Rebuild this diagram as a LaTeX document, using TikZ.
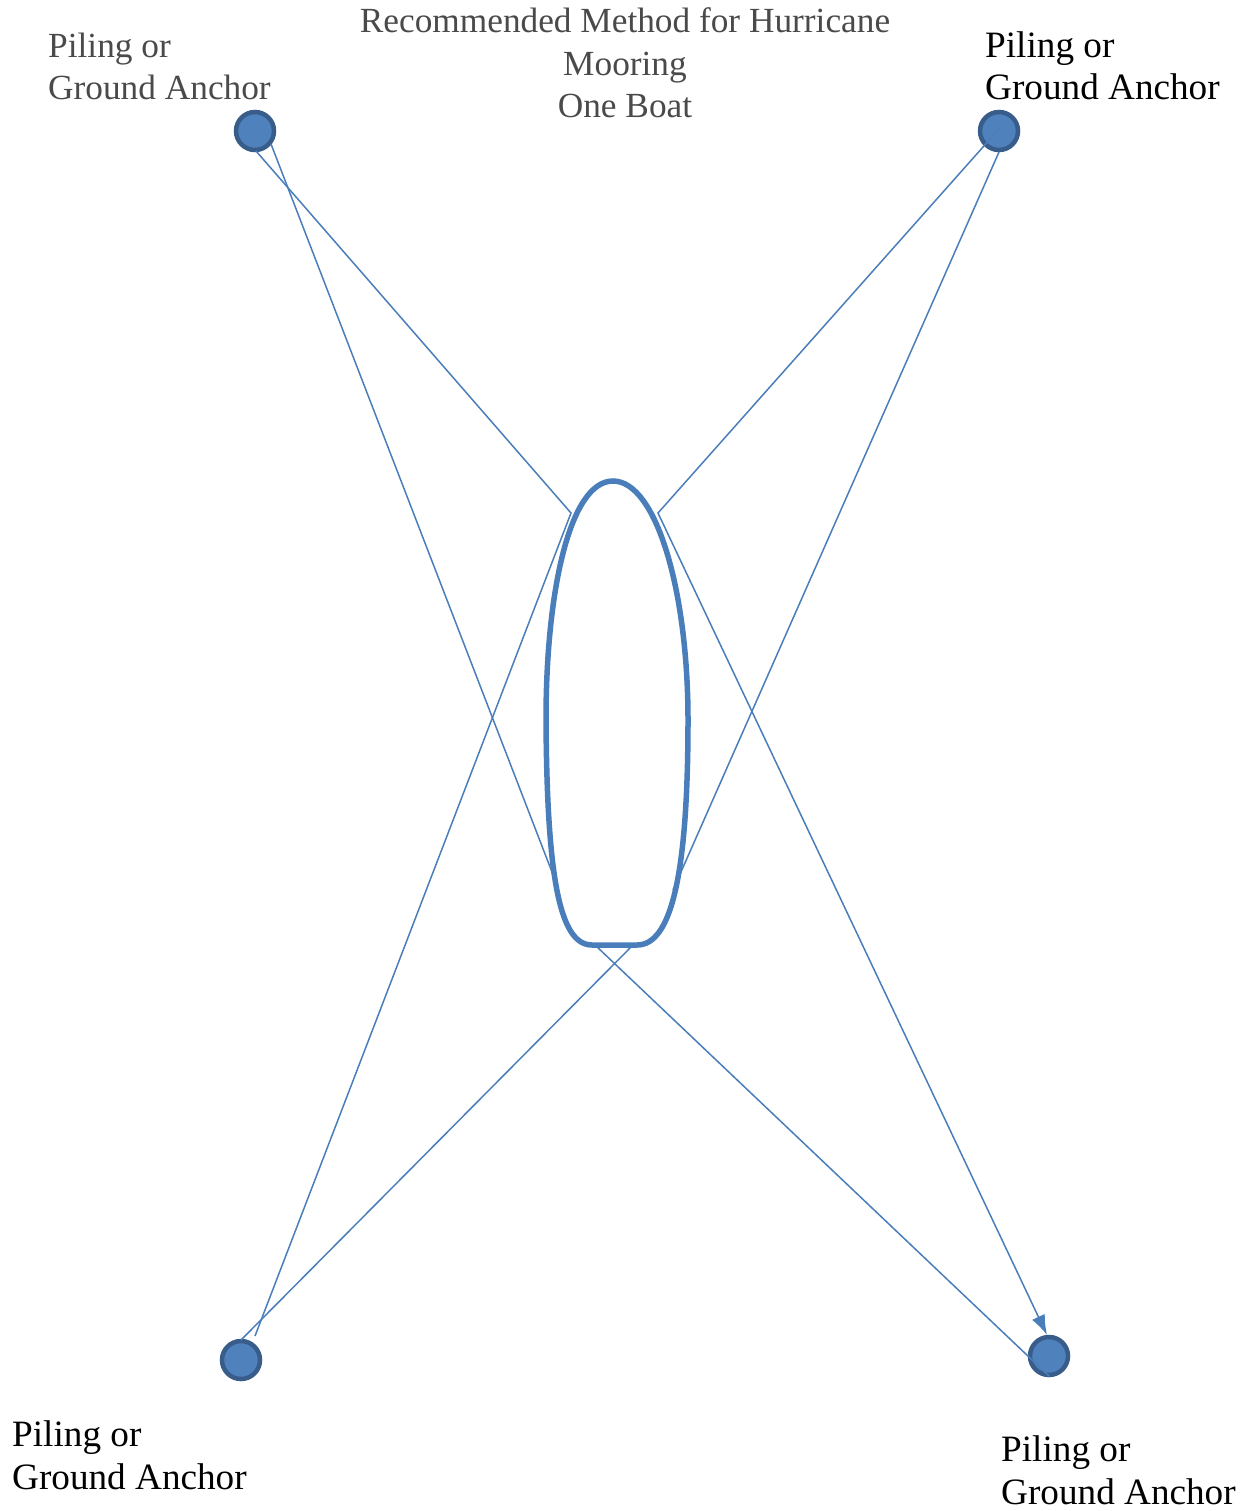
\documentclass[tikz,border=0pt]{standalone}
\usepackage{fontspec}
\setmainfont{Liberation Serif}
\usetikzlibrary{arrows.meta}
\definecolor{ancfill}{HTML}{4F81BD}
\definecolor{ancedge}{HTML}{385D8A}
\definecolor{rope}{HTML}{4A7EBB}
\definecolor{txtgray}{HTML}{4A4A4A}
\begin{document}
\begin{tikzpicture}[x=1pt,y=-1pt,
  anchorpt/.style={circle,fill=ancfill,draw=ancedge,line width=4.5pt,minimum size=38pt,inner sep=0pt},
  ropeline/.style={draw=rope,line width=1.5pt,line join=miter},
  hull/.style={draw=rope,line width=5.5pt},
  lbl/.style={anchor=base west,align=left,inner sep=0pt,font=\fontsize{37.2}{42.5}\selectfont},
  glbl/.style={anchor=base west,align=left,inner sep=0pt,text=txtgray,font=\fontsize{35.3}{42.5}\selectfont}]
\useasboundingbox (0,0) rectangle (1244,1511);

% anchors
\node[anchorpt] (a1) at (255,131) {};
\node[anchorpt] (a2) at (999,131) {};
\node[anchorpt] (a3) at (241,1360) {};
\node[anchorpt] (a4) at (1049,1356) {};

% labels (base = baseline of last line)
\node[glbl] (t1) at (48,100) {Piling or\\Ground Anchor};
\node[lbl] (t2) at (985,100) {Piling or\\Ground Anchor};
\node[lbl] (t3) at (12,1489) {Piling or\\Ground Anchor};
\node[lbl] (t4) at (1001,1504) {Piling or\\Ground Anchor};
\node[anchor=base,align=center,inner sep=0pt,text=txtgray,font=\fontsize{35.3}{42.5}\selectfont] (title) at (625,118) {Recommended Method for Hurricane\\Mooring\\One Boat};

% boat
\draw[hull] (592,945) .. controls (560,945) and (547,880) .. (546,720)
  .. controls (546,590) and (570,481) .. (613,481)
  .. controls (656,481) and (688,590) .. (688,720)
  .. controls (688,880) and (670,945) .. (637,945) -- cycle;

% rope points
\coordinate (s1) at (256,151);
\coordinate (k1) at (571,513);
\coordinate (e1) at (255,1336);
\coordinate (s2) at (271,144);
\coordinate (e2) at (557,885);
\coordinate (s3) at (999,129);
\coordinate (k3) at (658,513);
\coordinate (e3) at (1047,1335);
\coordinate (s4) at (999,152);
\coordinate (e4) at (673,890);
\coordinate (s5) at (633,945);
\coordinate (e5) at (241,1340);
\coordinate (s6) at (595,945);
\coordinate (e6) at (1049,1376);

\draw[ropeline] (s1) -- (k1) -- (e1);
\draw[ropeline] (s2) -- (e2);
\draw[ropeline,-{Latex[length=20pt,width=14pt]}] (s3) -- (k3) -- (e3);
\draw[ropeline] (s4) -- (e4);
\draw[ropeline] (s5) -- (e5);
\draw[ropeline] (s6) -- (e6);
\end{tikzpicture}
\end{document}
